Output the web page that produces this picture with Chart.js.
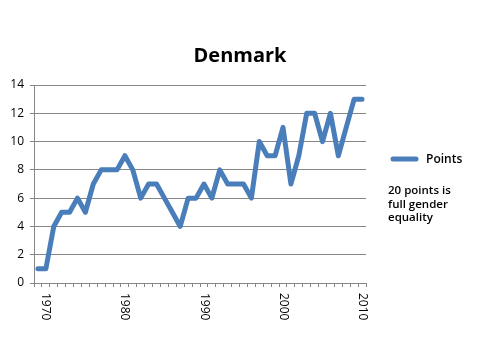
<!DOCTYPE html>
<html><head><meta charset="utf-8">
<script src="https://cdn.jsdelivr.net/npm/chart.js@4/dist/chart.umd.min.js"></script>
<style>html,body{margin:0;padding:0;background:#fff}canvas{display:block}</style>
</head><body>
<canvas id="c" width="491" height="341"></canvas>
<script>
const years = ['1969','1970','1971','1972','1973','1974','1975','1976','1977','1978',
  '1979','1980','1981','1982','1983','1984','1985','1986','1987','1988',
  '1989','1990','1991','1992','1993','1994','1995','1996','1997','1998',
  '1999','2000','2001','2002','2003','2004','2005','2006','2007','2008',
  '2009','2010'];
const points = [1,1,4,5,5,6,5,7,8,8,
  8,9,8,6,7,7,6,5,4,6,
  6,7,6,8,7,7,7,6,10,9,
  9,11,7,9,12,12,10,12,9,11,
  13,13];
const shownYearLabels = ['1970','1980','1990','2000','2010'];
const yMin = 0, yMax = 14, yStep = 2;
const chartTitle = 'Denmark';
const seriesName = 'Points';
const noteLines = ['20 points is', 'full gender', 'equality'];

const FONT = '"Open Sans", "Liberation Sans", sans-serif';
const LINE_COLOR = '#4A7EBB';
const GRID_COLOR = '#868686';

const extras = {
  id: 'extras',
  afterDraw(chart) {
    const ctx = chart.ctx;
    const xs = chart.scales.x;
    ctx.save();
    // title
    ctx.fillStyle = '#000';
    ctx.font = 'bold 20px ' + FONT;
    ctx.textAlign = 'center';
    ctx.textBaseline = 'alphabetic';
    ctx.fillText(chartTitle, 240, 62);
    // x labels rotated clockwise
    ctx.font = '12px ' + FONT;
    ctx.textAlign = 'left';
    ctx.textBaseline = 'middle';
    shownYearLabels.forEach(lab => {
      const idx = years.indexOf(lab);
      const x = xs.getPixelForValue(idx);
      ctx.save();
      ctx.translate(x, 293);
      ctx.rotate(Math.PI / 2);
      ctx.fillText(lab, 0, 0);
      ctx.restore();
    });
    // legend
    const ds = chart.data.datasets[0];
    ctx.strokeStyle = ds.borderColor;
    ctx.lineWidth = 5;
    ctx.lineCap = 'round';
    ctx.beginPath();
    ctx.moveTo(393, 159);
    ctx.lineTo(416, 159);
    ctx.stroke();
    ctx.font = '600 12px ' + FONT;
    ctx.textBaseline = 'alphabetic';
    ctx.fillStyle = '#000';
    ctx.fillText(ds.label, 426, 163);
    // note
    ctx.font = '600 11.5px ' + FONT;
    noteLines.forEach((t, i) => ctx.fillText(t, 388, 194 + i * 13.5));
    ctx.restore();
  }
};

new Chart(document.getElementById('c'), {
  type: 'line',
  data: {
    labels: years,
    datasets: [{
      label: seriesName,
      data: points,
      borderColor: LINE_COLOR,
      backgroundColor: LINE_COLOR,
      borderWidth: 5,
      borderJoinStyle: 'round',
      borderCapStyle: 'round',
      pointRadius: 0,
      tension: 0,
      fill: false
    }]
  },
  options: {
    responsive: false,
    animation: false,
    devicePixelRatio: 1,
    layout: { padding: { top: 85, right: 125, left: 0, bottom: 0 } },
    plugins: { legend: { display: false }, title: { display: false }, tooltip: { enabled: false } },
    scales: {
      x: {
        type: 'category',
        offset: true,
        grid: { display: true, drawOnChartArea: false, drawTicks: true, tickLength: 4, offset: true, color: GRID_COLOR },
        border: { color: GRID_COLOR },
        ticks: { display: false, autoSkip: false },
        afterFit(s) { s.height = 58; }
      },
      y: {
        min: yMin, max: yMax,
        grid: { color: GRID_COLOR, tickLength: 4, drawTicks: true },
        border: { color: GRID_COLOR },
        ticks: { stepSize: yStep, color: '#000', padding: 6, font: { family: FONT, size: 12 } },
        afterFit(s) { s.width = 34; }
      }
    }
  },
  plugins: [extras]
});
</script>
</body></html>
